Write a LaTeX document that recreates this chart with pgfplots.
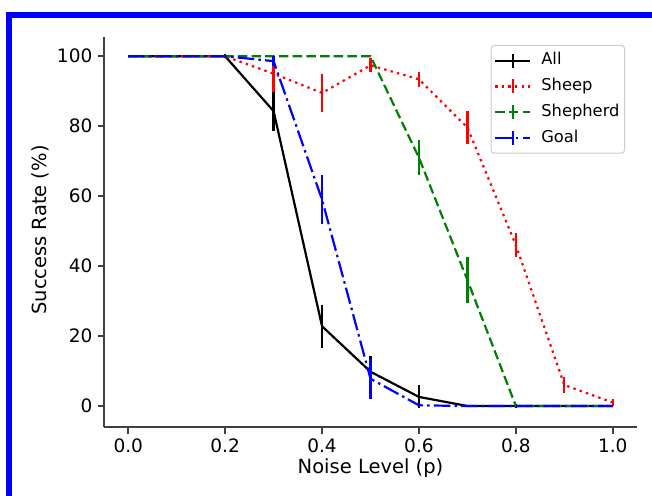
\documentclass[border=0pt]{standalone}
\usepackage{pgfplots}
\pgfplotsset{compat=1.18}
\usepackage{fontspec}
\setmainfont{DejaVu Sans}
\newcommand{\ff}{\fontsize{18.5}{22}\selectfont}
\newcommand{\lf}{\fontsize{19.5}{23}\selectfont}
\newcommand{\gf}{\fontsize{16.3}{19.5}\selectfont}
\definecolor{mplgreen}{rgb}{0,0.5,0}
\begin{document}
\ff
\begin{tikzpicture}[x=1pt,y=1pt]
\useasboundingbox (0,0) rectangle (652,495);
\fill[white] (0,0) rectangle (652,495);
\draw[blue, line width=6pt] (9.4,-10) -- (9.4,479.7) -- (670,479.7);
\begin{axis}[
  at={(104pt,68pt)}, anchor=south west, scale only axis,
  width=533pt, height=390pt,
  xmin=-0.05, xmax=1.05, ymin=-6, ymax=105.5,
  axis x line*=bottom, axis y line*=left,
  axis line style={black!75, line width=1.5pt, -},
  xtick={0,0.2,0.4,0.6,0.8,1.0}, ytick={0,20,40,60,80,100},
  /pgf/number format/assume math mode=true,
  tick align=outside, major tick length=6.5pt,
  tick style={black!75, line width=1.5pt},
  ticklabel style={font=\ff, inner sep=0pt},
  xticklabel style={anchor=north, yshift=-5pt, /pgf/number format/fixed, /pgf/number format/fixed zerofill, /pgf/number format/precision=1},
  yticklabel style={anchor=east, xshift=-5pt},
  xlabel={Noise Level (p)}, ylabel={Success Rate (\%)},
  xlabel style={font=\lf, at={(axis description cs:0.5,-0.118)}, anchor=base, inner sep=0pt},
  ylabel style={font=\lf, at={(axis description cs:-0.1088,0.505)}, anchor=base, rotate=0, inner sep=0pt},
  legend style={at={(axis description cs:0.9775,0.9795)}, anchor=north east,
    draw=black!20, rounded corners=3pt, line width=1pt, fill=white, fill opacity=0.8, text opacity=1,
    font=\gf, inner xsep=3pt, inner ysep=5pt, row sep=5.5pt,
    nodes={inner sep=2pt, text height=12.2pt, text depth=4.1pt}},
  legend cell align=left,
  every axis plot/.append style={line width=2.2pt},
  error bars/y dir=both, error bars/y explicit, error bars/error mark=none,
  error bars/error bar style={solid, line width=2.2pt},
  legend image code/.code={
    \draw[#1] (0pt,0pt) -- (35pt,0pt);
    \draw[#1,solid] (17.5pt,-7pt) -- (17.5pt,7pt);
    \path (43pt,0pt);
  },
]
\addplot[black, solid] coordinates {
  (0,100) +- (0,0)
  (0.1,100) +- (0,0)
  (0.2,100) +- (0,0.5)
  (0.3,84.3) +- (0,5.8)
  (0.4,22.8) +- (0,6.2)
  (0.5,9.8) +- (0,4.5)
  (0.6,2.6) +- (0,3.3)
  (0.7,0) +- (0,0)
  (0.8,0) +- (0,0.5)
  (0.9,0) +- (0,0)
  (1.0,0) +- (0,0)
};
\addlegendentry{All}
\addplot[red, dash pattern=on 2.4pt off 4.2pt] coordinates {
  (0,100) +- (0,0)
  (0.1,100) +- (0,0)
  (0.2,100) +- (0,0)
  (0.3,95) +- (0,5.2)
  (0.4,89.5) +- (0,5.4)
  (0.5,97.4) +- (0,2)
  (0.6,93.4) +- (0,2.2)
  (0.7,79.6) +- (0,4.6)
  (0.8,46) +- (0,3.5)
  (0.9,6) +- (0,2.4)
  (1.0,1) +- (0,1)
};
\addlegendentry{Sheep}
\addplot[mplgreen, dash pattern=on 9.5pt off 4.2pt] coordinates {
  (0,100) +- (0,0)
  (0.1,100) +- (0,0)
  (0.2,100) +- (0,0)
  (0.3,100) +- (0,0)
  (0.4,100) +- (0,0)
  (0.5,100) +- (0,0)
  (0.6,71) +- (0,5)
  (0.7,36) +- (0,6.5)
  (0.8,0) +- (0,0)
  (0.9,0) +- (0,0)
  (1.0,0) +- (0,0)
};
\addlegendentry{Shepherd}
\addplot[blue, dash pattern=on 16.5pt off 4.2pt on 2.5pt off 4.2pt] coordinates {
  (0,100) +- (0,0)
  (0.1,100) +- (0,0)
  (0.2,100) +- (0,0)
  (0.3,98.6) +- (0,1.5)
  (0.4,59) +- (0,7)
  (0.5,7.8) +- (0,5.7)
  (0.6,0.2) +- (0,0.3)
  (0.7,0) +- (0,0)
  (0.8,0) +- (0,0)
  (0.9,0) +- (0,0)
  (1.0,0) +- (0,0)
};
\addlegendentry{Goal}
\end{axis}
\end{tikzpicture}
\end{document}
